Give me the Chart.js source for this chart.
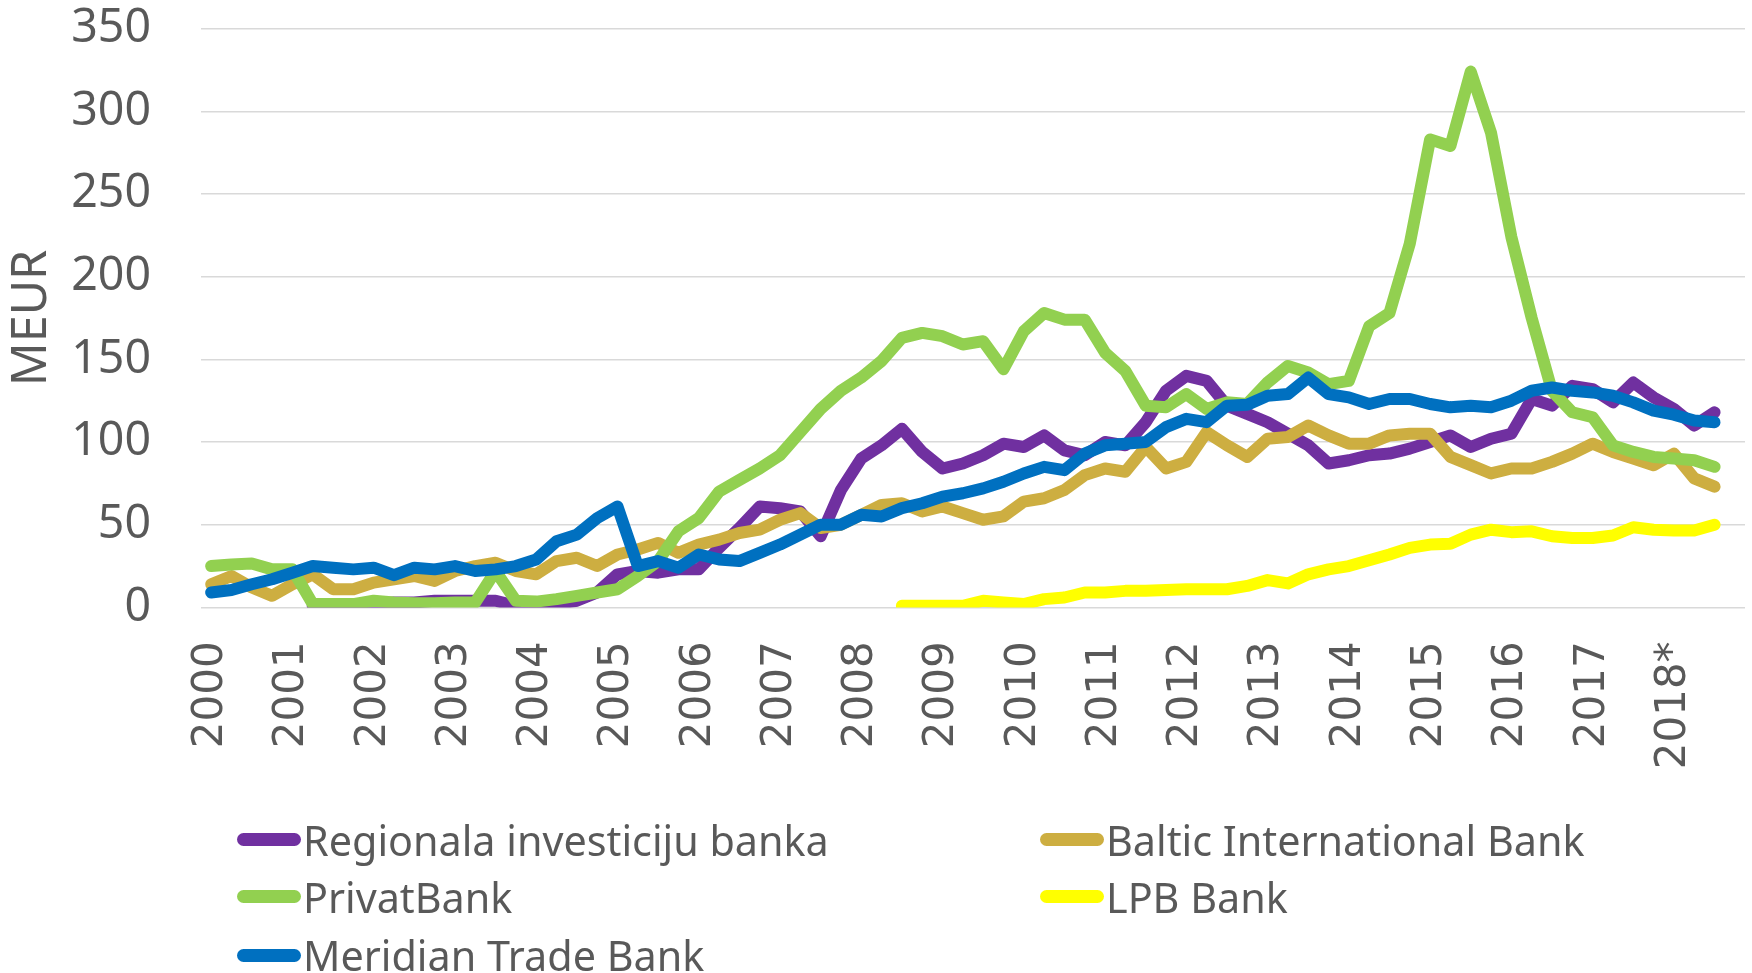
<!DOCTYPE html>
<html><head><meta charset="utf-8">
<script src="https://cdn.jsdelivr.net/npm/chart.js@4.4.1/dist/chart.umd.min.js"></script>
<style>
html,body{margin:0;padding:0;background:#fff;}
#wrap{position:relative;width:1752px;height:973px;overflow:hidden;background:#fff;}
canvas{position:absolute;left:0;top:0;}
.li{position:absolute;height:60px;display:flex;align-items:center;white-space:nowrap;font-family:'Noto Sans';font-size:41.3px;color:#595959;}
.sw{display:inline-block;width:64px;height:13px;border-radius:6.5px;margin-right:2px;flex:none;}
</style></head><body>
<div id="wrap"><canvas id="c" width="1752" height="973"></canvas><div id="legend"></div></div>
<script>
// ---- data ----
const years = ['2000','2001','2002','2003','2004','2005','2006','2007','2008','2009','2010','2011','2012','2013','2014','2015','2016','2017','2018'];
const yearLabels = ['2000','2001','2002','2003','2004','2005','2006','2007','2008','2009','2010','2011','2012','2013','2014','2015','2016','2017','2018*'];
const categories = [];
years.forEach(y => { for (let q = 1; q <= 4; q++) categories.push(y + ' Q' + q); });

const seriesNames = ['Regionala investiciju banka','Baltic International Bank','PrivatBank','LPB Bank','Meridian Trade Bank'];
const seriesColors = ['#7030A0','#CDAE41','#92D050','#FFFF00','#0070C0'];

const regionala = [null,null,null,null,null, 1,1,1,2,3, 3,4,4,4,4, 1,1,2,4,9, 20,22,21,23,23, 36,48,61,60,58, 43,71,90,98,108, 94,84,87,92,99, 97,104,95,92,100, 98,112,131,140,137, 122,117,112,105,98, 87,89,92,93,96, 100,104,97,102,105, 126,122,134,132,124, 136,127,120,110,118];
const baltic = [14,19,12,7,14, 20,11,11,15,17, 19,16,22,25,27, 22,20,28,30,25, 32,35,39,33,38, 41,45,47,53,57, 48,50,56,62,63, 58,61,57,53,55, 64,66,71,80,84, 82,97,84,88,106, 98,91,102,103,110, 104,99,99,104,105, 105,91,86,81,84, 84,88,93,99,94, 90,86,93,78,73];
const privat = [25,26,26.5,23,23, 2,2,2,4,3, 2.5,2.5,3,3,22, 4,3.5,5,7,9, 11,19,28,46,54, 70,77,84,92,106, 120,131,139,149,163, 166,164,159,161,144, 167,178,174,174,154, 143,122,121,129,120, 124,123,136,146,142, 135,137,170,178,220, 283,279,324,287,224, 175,131,118,115,98, 94,91,90,89,85];
const lpb = [null,null,null,null,null, null,null,null,null,null, null,null,null,null,null, null,null,null,null,null, null,null,null,null,null, null,null,null,null,null, null,null,null,null,
  1,1,1,1,4, 3,2,5,6,9, 9,10,10,10.5,11, 11,11,13,16.5,14.5, 20,23,25,28.5,32, 36,38,38.5,44,47, 45.5,46,43,42,42, 43.5,48.5,47,46.5,46.5, 50];
const meridian = [9,10.5,14,17,21, 25,24,23,24,19.5, 24,23,25,22,23, 25,29,40,44,54, 61,25,28,24,32, 29,28,33,38,44, 50,50,56,55,60, 63,67,69,72,76, 81,85,83,93,98, 99,100,109,114,112, 122,122.5,128,129,139, 129,127,123,126,126, 123,121,122,121,125, 131,133,131,130,128, 124,119,116.5,113,112];
const seriesData = [regionala, baltic, privat, lpb, meridian];

// ---- chart ----
const datasets = seriesNames.map((name, k) => ({
  label: name,
  data: seriesData[k],
  borderColor: seriesColors[k],
  backgroundColor: seriesColors[k],
  borderWidth: 12,
  pointRadius: 0,
  pointHoverRadius: 0,
  borderCapStyle: 'round',
  borderJoinStyle: 'round',
  tension: 0,
  fill: false,
  order: seriesNames.length - k
}));

new Chart(document.getElementById('c'), {
  type: 'line',
  data: { labels: categories, datasets },
  options: {
    responsive: false,
    animation: false,
    devicePixelRatio: 1,
    layout: { padding: { left: 0, right: 7, top: 28.6, bottom: 0 } },
    plugins: { legend: { display: false }, tooltip: { enabled: false } },
    scales: {
      x: {
        offset: true,
        grid: { display: false, drawTicks: false },
        border: { display: false },
        ticks: {
          autoSkip: false, minRotation: 90, maxRotation: 90, padding: 34,
          color: '#595959', font: { family: 'DejaVu Sans', size: 42 },
          callback: (v, i) => (i % 4 === 0 ? yearLabels[i / 4] : '')
        },
        afterFit: (s) => { s.height = 365.6; s.paddingLeft = 0; s.paddingRight = 0; }
      },
      y: {
        min: 0, max: 350,
        ticks: { stepSize: 50, padding: 50, color: '#595959', font: { family: 'Noto Sans', size: 46.5 } },
        grid: { color: '#D9D9D9', lineWidth: 1.5, drawTicks: false },
        border: { display: false },
        title: { display: true, text: 'MEUR', color: '#595959', font: { family: 'Noto Sans', size: 48.5 }, padding: { top: 3, bottom: 0 } },
        afterFit: (s) => { s.width = 201; s.paddingTop = 0; s.paddingBottom = 0; }
      }
    }
  }
});

// ---- legend (HTML, built from the series arrays) ----
const legendCols = [237, 1040];
const legendRows = [839.5, 896.7, 955];
const leg = document.getElementById('legend');
seriesNames.forEach((name, k) => {
  const col = k % 2, row = Math.floor(k / 2);
  const d = document.createElement('div');
  d.className = 'li';
  d.style.left = legendCols[col] + 'px';
  d.style.top = (legendRows[row] - 30) + 'px';
  const sw = document.createElement('span');
  sw.className = 'sw';
  sw.style.background = seriesColors[k];
  const t = document.createElement('span');
  t.textContent = name;
  d.appendChild(sw); d.appendChild(t);
  leg.appendChild(d);
});
</script>
</body></html>
